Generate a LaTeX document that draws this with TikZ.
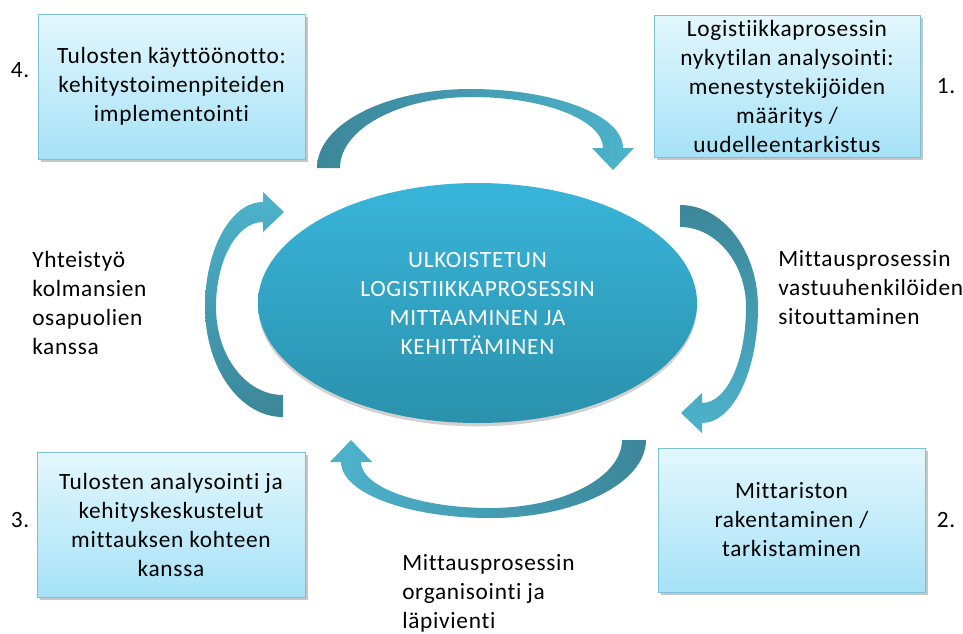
\documentclass[tikz,border=0pt]{standalone}
\usepackage{fontspec}
\setmainfont[Ligatures=NoCommon, LetterSpace=3]{Carlito}
\usetikzlibrary{shapes.geometric,shadows}

\definecolor{boxtop}{HTML}{E3F7FD}
\definecolor{boxbottom}{HTML}{A6E2F7}
\definecolor{boxline}{HTML}{7BC2D6}
\definecolor{hubtop}{HTML}{39B5DA}
\definecolor{hubbottom}{HTML}{2A91AC}
\definecolor{arrowdark}{HTML}{3C8699}
\definecolor{arrowlight}{HTML}{4DB3CC}

\newcommand\diagfont{\fontsize{17.5}{21.75}\selectfont}

\tikzset{
  stagebox/.style={rectangle, draw=boxline, line width=0.75pt,
    top color=boxtop, bottom color=boxbottom,
    drop shadow={shadow xshift=2pt, shadow yshift=-2pt, fill=black, opacity=0.22},
    align=center, font=\diagfont, inner sep=0pt},
  hub/.style={ellipse, top color=hubtop, bottom color=hubbottom,
    minimum width=329.25pt, minimum height=180pt, inner sep=0pt,
    drop shadow={shadow xshift=0pt, shadow yshift=-2.5pt, fill=black, opacity=0.18},
    text=white, align=center, font=\diagfont},
  note/.style={align=left, anchor=west, inner sep=0pt, font=\diagfont},
  stagenum/.style={inner sep=0pt, font=\diagfont},
}

\begin{document}
\begin{tikzpicture}[x=0.75pt, y=-0.75pt]
\useasboundingbox (0,0) rectangle (963,633);

% central ellipse
\node[hub] (hub) at (477.5,303) {ULKOISTETUN\\LOGISTIIKKAPROSESSIN\\MITTAAMINEN JA\\KEHITTÄMINEN};

% the four stages
\node[stagebox, minimum width=200.25pt, minimum height=108.75pt] (s4) at (171.5,86.5)
  {Tulosten käyttöönotto:\\kehitystoimenpiteiden\\implementointi};
\node[stagebox, minimum width=199.5pt, minimum height=106.5pt] (s1) at (787,86)
  {Logistiikkaprosessin\\nykytilan analysointi:\\menestystekijöiden\\määritys /\\uudelleentarkistus};
\node[stagebox, minimum width=200.25pt, minimum height=108pt] (s2) at (791.5,520)
  {Mittariston\\rakentaminen /\\tarkistaminen};
\node[stagebox, minimum width=201pt, minimum height=108.75pt] (s3) at (171,524.5)
  {Tulosten analysointi ja\\kehityskeskustelut\\mittauksen kohteen\\kanssa};

% stage numbers
\node[stagenum] (n4) at (20,70) {4.};
\node[stagenum] (n1) at (946,86) {1.};
\node[stagenum] (n2) at (946,520) {2.};
\node[stagenum] (n3) at (20,520) {3.};

% transition labels
\node[note] (t41) at (32,302.5) {Yhteistyö\\kolmansien\\osapuolien\\kanssa};
\node[note] (t12) at (778,287.5) {Mittausprosessin\\vastuuhenkilöiden\\sitouttaminen};
\node[note] (t23) at (402,593.5) {Mittausprosessin\\organisointi ja\\läpivienti};

% curved block arrows, clockwise
% top: from stage 4 towards stage 1
\shade[left color=arrowdark, right color=arrowlight]
  (317,168) .. controls (317,124) and (386,89) .. (470,89)
  .. controls (554,89) and (623,115) .. (623,148)
  -- (634,148) -- (613,170) -- (592,148) -- (603,148)
  .. controls (603,120) and (544,97) .. (472,97)
  .. controls (399,97) and (340,129) .. (340,168) -- cycle;

% right: from stage 1 towards stage 2
\shade[top color=arrowdark, bottom color=arrowlight]
  (680,205) .. controls (723,205) and (758,251) .. (758,307)
  .. controls (758,371) and (733,423) .. (702,423)
  -- (702,433) -- (681,413) -- (702,393) -- (702,403)
  .. controls (727,403) and (746,360) .. (746,307)
  .. controls (746,263) and (716,227) .. (680,227) -- cycle;

% bottom: from stage 2 towards stage 3
\shade[left color=arrowlight, right color=arrowdark]
  (646,440) .. controls (646,483) and (576,518) .. (490,518)
  .. controls (408,518) and (341,493) .. (341,462)
  -- (330,462) -- (351,440) -- (372,462) -- (361,462)
  .. controls (361,487) and (419,508) .. (490,508)
  .. controls (563,508) and (622,477) .. (622,440) -- cycle;

% left: from stage 3 towards stage 4
\shade[top color=arrowlight, bottom color=arrowdark]
  (283,417) .. controls (240,417) and (205,368) .. (205,307)
  .. controls (205,249) and (231,202) .. (263,202)
  -- (263,192) -- (284,212) -- (263,232) -- (263,222)
  .. controls (237,222) and (216,260) .. (216,307)
  .. controls (216,356) and (246,395) .. (283,395) -- cycle;
\end{tikzpicture}
\end{document}
